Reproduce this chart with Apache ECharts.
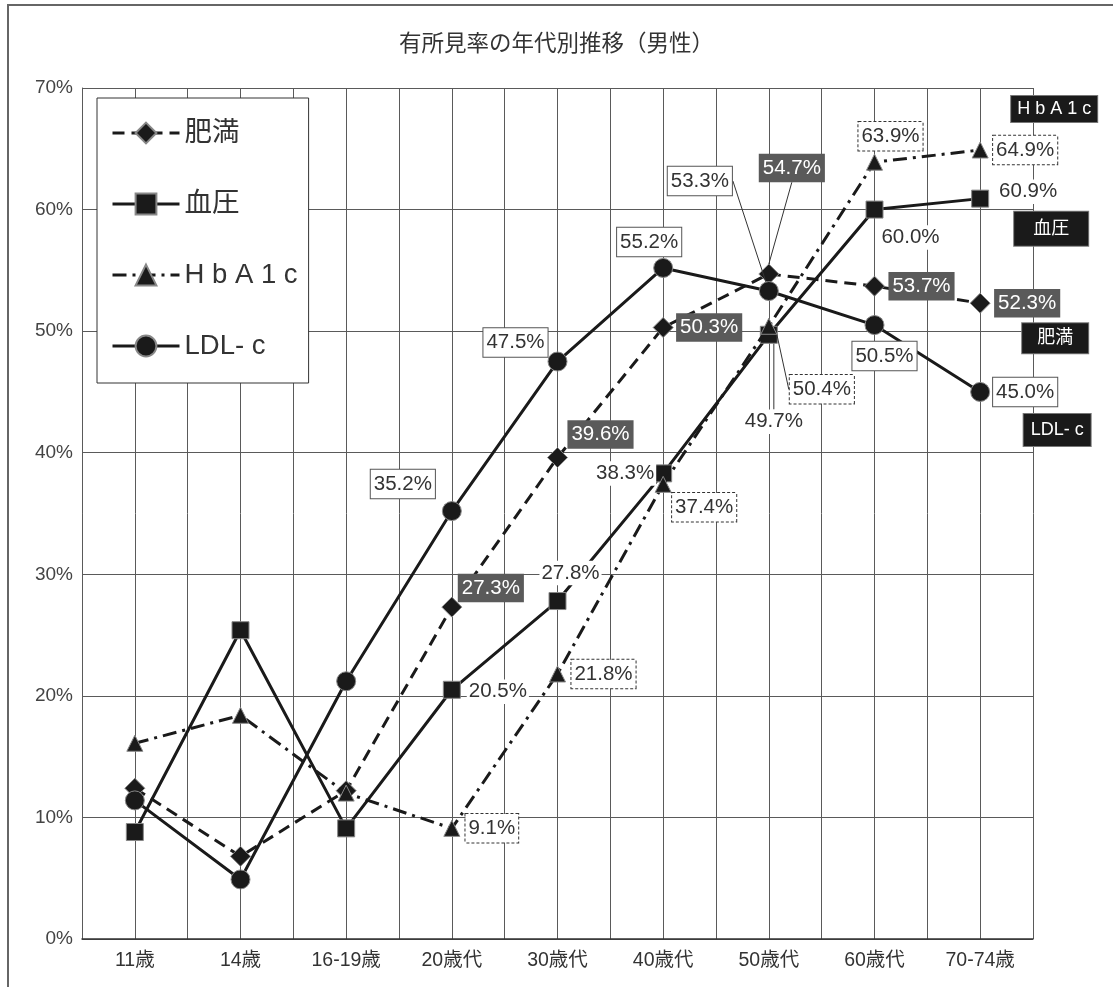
<!DOCTYPE html>
<html>
<head>
<meta charset="utf-8">
<script src="https://cdn.jsdelivr.net/npm/echarts@6/dist/echarts.min.js"></script>
<style>
  html, body { margin: 0; padding: 0; background: #fff; }
  #chart { width: 1113px; height: 987px; }
</style>
</head>
<body>
<div id="chart"></div>
<script>
// 年代区分
const categories = ['11歳', '14歳', '16-19歳', '20歳代', '30歳代', '40歳代', '50歳代', '60歳代', '70-74歳'];
// 有所見率（%）
const obesity = [12.4, 6.8, 12.2, 27.3, 39.6, 50.3, 54.7, 53.7, 52.3];     // 肥満
const bloodPressure = [8.8, 25.4, 9.1, 20.5, 27.8, 38.3, 49.7, 60.0, 60.9]; // 血圧
const hba1c = [16.1, 18.4, 12.0, 9.1, 21.8, 37.4, 50.4, 63.9, 64.9];        // HbA1c
const ldl = [11.4, 4.9, 21.2, 35.2, 47.5, 55.2, 53.3, 50.5, 45.0];          // LDL-c
const seriesNames = ['肥満', '血圧', 'H b A 1 c', 'LDL- c'];
const endNames = ['肥満', '血圧', 'H b A 1 c', 'LDL- c'];
const yTicks = [0, 10, 20, 30, 40, 50, 60, 70];

// 値ラベルを付ける最初の年代
const FIRST_LABELED = 3;

// ラベル中心の点からのずれ [dx, dy]（index 3..8）
const labelShift = [
  [[39, -19], [43, -23], [46, 0], [23, -106], [47, 0], [47, 0]],
  [[46, 2], [13, -28], [-38, 0], [5, 87], [36, 28], [48, -7]],
  [[40, 0], [46, 0], [41, 23], [53, 63], [16, -26], [45, 0]],
  [[-49, -27], [-42, -19], [-14, -26], [-69, -110], [10, 31], [45, 0]]
];
// 引き出し線付きのラベル
const leaderAt = [[6], [6], [6], [6]];
// 系列名ボックスの位置（最終点から）
const endShift = [[75, 35], [71, 30], [74, -41], [77, 38]];

const INK = '#1a1a1a';
const FONT = '"Liberation Sans", "Noto Sans CJK JP", sans-serif';

const valueSets = [obesity, bloodPressure, hba1c, ldl];
const symbols = ['diamond', 'rect', 'triangle', 'circle'];
const symbolSizes = [20, 17, 16, 19];
const lineTypes = [[12, 7], 'solid', [14, 6, 3, 6], 'solid'];

const labelStyles = [
  { color: '#fff', backgroundColor: '#5a5a5a', padding: [5, 4, 3, 4] },
  { color: '#333', backgroundColor: '#fff', padding: [3, 2, 1, 2] },
  { color: '#333', backgroundColor: '#fff', borderColor: '#333', borderWidth: 1,
    borderType: [3, 2], padding: [5, 3, 3, 3] },
  { color: '#333', backgroundColor: '#fff', borderColor: '#555', borderWidth: 1,
    padding: [5, 3, 3, 3] }
];
const endBoxPad = [[7, 15, 5, 15], [9, 19, 7, 19], [5, 6, 3, 6], [8, 7, 6, 7]];

const series = valueSets.map((vals, s) => ({
  name: seriesNames[s],
  type: 'line',
  z: 2 + s,
  symbol: symbols[s],
  symbolSize: symbolSizes[s],
  lineStyle: { color: INK, width: 3, type: lineTypes[s], cap: 'butt' },
  itemStyle: { color: INK, borderColor: '#888', borderWidth: 1 },
  label: Object.assign({
    show: true,
    position: 'inside',
    fontFamily: FONT,
    fontSize: 20.5,
    formatter: (p) => p.value[1].toFixed(1) + '%'
  }, labelStyles[s]),
  labelLine: { show: false, lineStyle: { color: '#333', width: 1 } },
  labelLayout: function (p) {
    const k = p.dataIndex - FIRST_LABELED;
    if (k < 0) return {};
    const d = labelShift[s][k];
    return {
      x: p.rect.x + p.rect.width / 2 + d[0],
      y: p.rect.y + p.rect.height / 2 + d[1],
      align: 'center',
      verticalAlign: 'middle'
    };
  },
  data: vals.map((v, i) => ({
    value: [i + 0.5, v],
    label: { show: i >= FIRST_LABELED },
    labelLine: { show: leaderAt[s].indexOf(i) >= 0, lineStyle: { color: '#333', width: 1 } }
  })),
  markPoint: {
    silent: true,
    symbol: 'rect',
    symbolSize: 1,
    itemStyle: { color: 'rgba(0,0,0,0)' },
    label: {
      show: true,
      position: 'inside',
      offset: endShift[s],
      formatter: endNames[s],
      color: '#fff',
      fontFamily: FONT,
      fontSize: 18,
      backgroundColor: INK,
      borderColor: '#777',
      borderWidth: 1,
      padding: endBoxPad[s]
    },
    data: [{ coord: [vals.length - 0.5, vals[vals.length - 1]] }]
  },
  animation: false
}));

const chart = echarts.init(document.getElementById('chart'), null, { renderer: 'canvas' });
chart.setOption({
  backgroundColor: '#fff',
  animation: false,
  textStyle: { fontFamily: FONT },
  title: {
    text: '有所見率の年代別推移（男性）',
    left: 'center',
    top: 29,
    textStyle: { fontFamily: FONT, fontSize: 22.5, fontWeight: 'normal', color: '#333' }
  },
  graphic: [{
    type: 'rect',
    shape: { x: 8, y: 5, width: 1200, height: 1100 },
    style: { fill: 'none', stroke: '#666', lineWidth: 2 },
    silent: true,
    z: -10
  }],
  legend: {
    orient: 'vertical',
    left: 97,
    top: 98,
    padding: [20, 11, 22, 14],
    itemWidth: 67,
    itemHeight: 26,
    itemGap: 41,
    backgroundColor: '#fff',
    borderColor: '#333',
    borderWidth: 1,
    lineStyle: { width: 3 },
    textStyle: { fontFamily: FONT, fontSize: 27.5, color: '#333', lineHeight: 30 },
    data: seriesNames
  },
  grid: { left: 82, top: 88, right: 80, bottom: 48, containLabel: false },
  xAxis: {
    type: 'value',
    min: 0,
    max: categories.length,
    interval: 0.5,
    axisLine: { show: true, lineStyle: { color: '#333', width: 1.5 } },
    axisTick: { show: false },
    splitLine: { show: true, lineStyle: { color: '#5a5a5a', width: 1 } },
    axisLabel: {
      margin: 12,
      fontSize: 19.5,
      color: '#333',
      fontFamily: FONT,
      formatter: (v) => {
        const i = v - 0.5;
        return Number.isInteger(i) && categories[i] ? categories[i] : '';
      }
    }
  },
  yAxis: {
    type: 'value',
    min: yTicks[0],
    max: yTicks[yTicks.length - 1],
    interval: 10,
    axisLine: { show: true, lineStyle: { color: '#5a5a5a', width: 1 } },
    axisTick: { show: false },
    splitLine: { show: true, lineStyle: { color: '#5a5a5a', width: 1 } },
    axisLabel: {
      margin: 9,
      fontSize: 19,
      color: '#444',
      fontFamily: FONT,
      formatter: '{value}%'
    }
  },
  series: series
});
</script>
</body>
</html>
